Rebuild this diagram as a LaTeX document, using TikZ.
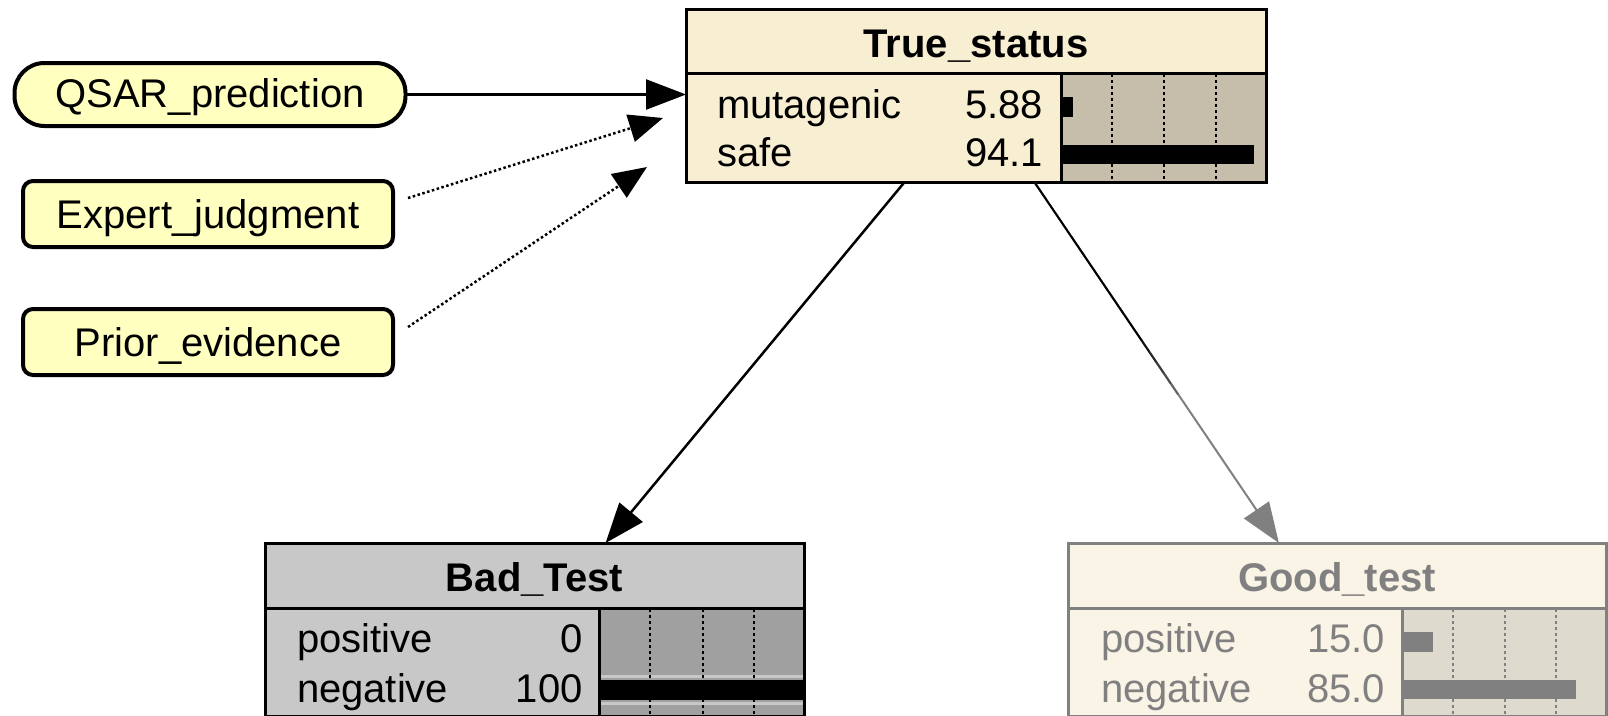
\documentclass[tikz,border=0pt]{standalone}
\usepackage{fontspec}
\setmainfont{Liberation Sans}
\usetikzlibrary{arrows.meta,calc}
\definecolor{pill}{RGB}{255,255,192}
\definecolor{tsfill}{RGB}{248,238,210}
\definecolor{tsbar}{RGB}{198,190,170}
\definecolor{badfill}{RGB}{200,200,200}
\definecolor{badbar}{RGB}{160,160,160}
\definecolor{goodfill}{RGB}{250,244,230}
\definecolor{goodbar}{RGB}{222,218,206}
\definecolor{dim}{RGB}{128,128,128}
\begin{document}
\begin{tikzpicture}[x=1pt,y=-1pt,
  every node/.style={inner sep=0pt, outer sep=0pt, font=\fontsize{40}{48}\selectfont},
  titletext/.style={font=\fontsize{40}{48}\selectfont\bfseries, anchor=base},
  pillnode/.style={draw, line width=4pt, fill=pill, rounded corners=30pt, minimum width=391pt, minimum height=63pt, text height=26pt, text depth=0pt},
  boxnode/.style={draw, line width=4pt, fill=pill, rounded corners=10pt, minimum width=370pt, minimum height=66pt, text height=29pt, text depth=0pt},
  tablenode/.style={draw, line width=3pt, minimum height=173pt},
  link/.style={line width=2.5pt, -{Triangle[length=40pt,width=30pt]}},
  dotlink/.style={line width=2.5pt, dash pattern=on 2.5pt off 2.5pt, -{Triangle[length=34pt,width=28pt]}},
  gridline/.style={line width=2pt, dash pattern=on 3pt off 3pt},
  frame/.style={line width=3pt},
]
\useasboundingbox (0,0) rectangle (1608,715);
\clip (0,0) rectangle (1608,715);

% left evidence nodes
\node[pillnode] (qsar) at (210,94.5) {QSAR\_prediction};
\node[boxnode] (expert) at (208,214) {Expert\_judgment};
\node[boxnode] (prior) at (208,342) {Prior\_evidence};

% True_status
\node[tablenode, fill=tsfill, minimum width=580pt] (ts) at (976,95.5) {};
\fill[tsbar] (1061,73) rectangle (1266,182);
\fill (1061,97) rectangle ++(12,20);
\fill (1061,145) rectangle ++(193,19);
\foreach \gx in {1112,1164,1216} \draw[gridline] (\gx,74) -- (\gx,182);
\draw[frame] (686,73) -- (1266,73) (1061,73) -- (1061,182);
\draw[frame] (ts.north west) rectangle (ts.south east);
\node[titletext] (tstitle) at (976,57) {True\_status};
\node[anchor=base west] (tsr1) at (717,118) {mutagenic};
\node[anchor=base east] (tsv1) at (1043,118) {5.88};
\node[anchor=base west] (tsr2) at (717,166) {safe};
\node[anchor=base east] (tsv2) at (1043,166) {94.1};

% Bad_Test
\node[tablenode, fill=badfill, minimum width=539pt] (bad) at (534.5,629.5) {};
\fill[badbar] (599,608) rectangle (804,716);
\draw[badfill, line width=3pt] (599,676.5) -- (804,676.5) (599,703.5) -- (804,703.5);
\foreach \gx in {650,703,754} \draw[gridline] (\gx,609) -- (\gx,716);
\fill (599,680) rectangle (804,700);
\draw[frame] (265,608) -- (804,608) (599,608) -- (599,716);
\draw[frame] (bad.north west) rectangle (bad.south east);
\node[titletext] (badtitle) at (534.5,591) {Bad\_Test};
\node[anchor=base west] (badr1) at (297,652) {positive};
\node[anchor=base east] (badv1) at (582.5,652) {0};
\node[anchor=base west] (badr2) at (297,702) {negative};
\node[anchor=base east] (badv2) at (582.5,702) {100};

% Good_test
\node[tablenode, draw=dim, fill=goodfill, minimum width=538pt] (good) at (1337,629.5) {};
\fill[goodbar] (1402,608) rectangle (1606,716);
\foreach \gx in {1453,1505,1556} \draw[gridline, dim] (\gx,609) -- (\gx,716);
\fill[dim] (1402,632) rectangle ++(31,20);
\fill[dim] (1402,680) rectangle ++(174,19);
\draw[frame, dim] (1068,608) -- (1606,608) (1402,608) -- (1402,716);
\draw[frame, dim] (good.north west) rectangle (good.south east);
\node[titletext, text=dim] (goodtitle) at (1337,591) {Good\_test};
\node[anchor=base west, text=dim] (goodr1) at (1101,652) {positive};
\node[anchor=base east, text=dim] (goodv1) at (1385,652) {15.0};
\node[anchor=base west, text=dim] (goodr2) at (1101,702) {negative};
\node[anchor=base east, text=dim] (goodv2) at (1385,702) {85.0};

% connectors
\draw[link] (qsar.east) -- (qsar.east -| ts.west);
\coordinate (es) at ($(expert.east)+(15,-16)$);
\coordinate (ej) at (663,118);
\coordinate (ps) at ($(prior.east)+(15,-15)$);
\coordinate (pe) at (647,167);
\draw[dotlink] (es) -- (ej);
\draw[dotlink] (ps) -- (pe);
\draw[link] (ts) -- (bad);
\draw[link, dim, line width=2pt] (ts) -- (good);
\draw[line width=2pt] (ts) -- ($(ts)!0.46!(good)$);
\foreach \ta/\tb/\mix in {0.46/0.48/85,0.48/0.50/70,0.50/0.52/55,0.52/0.54/40,0.54/0.56/20}
  \draw[line width=2pt, black!\mix!dim] ($(ts)!\ta!(good)$) -- ($(ts)!\tb!(good)$);
\end{tikzpicture}
\end{document}
